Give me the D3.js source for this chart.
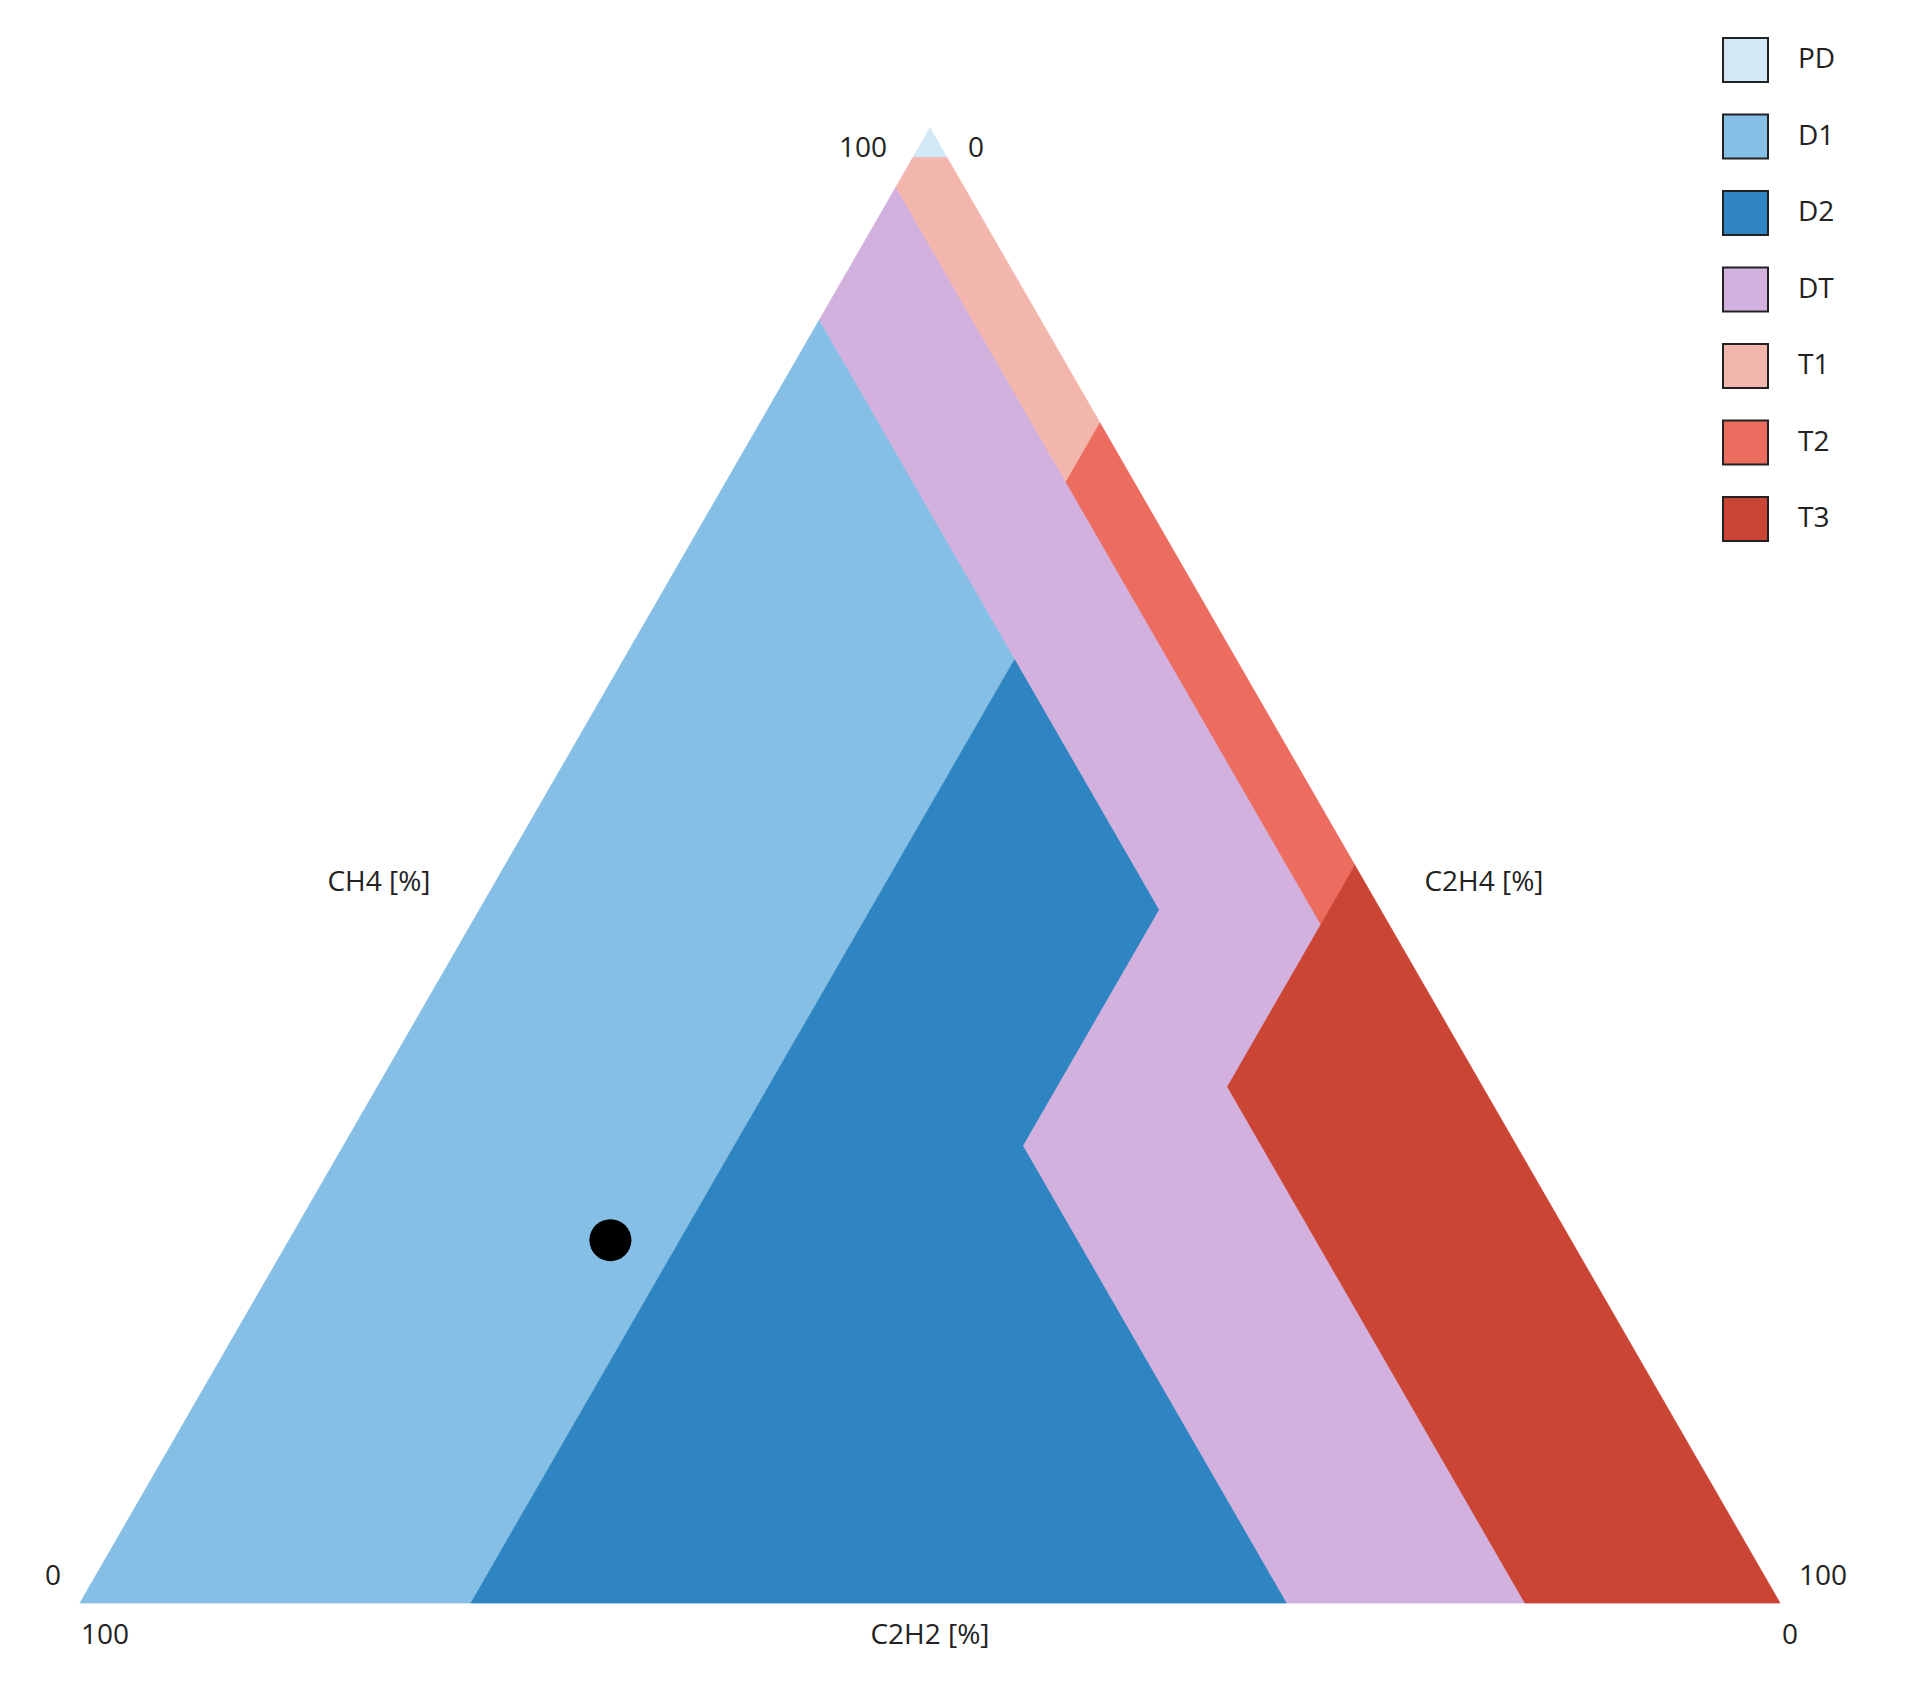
<!DOCTYPE html>
<html><head><meta charset="utf-8">
<script src="https://cdn.jsdelivr.net/npm/d3@7"></script>
<style>body{margin:0;background:#fff}svg text{font-family:"Open Sans","DejaVu Sans",sans-serif;fill:#222}</style>
</head><body><svg id="c" width="1918" height="1697"></svg>
<script>
// zones: vertices as [CH4, C2H4, C2H2] in %
const zoneNames = ["PD","D1","D2","DT","T1","T2","T3"];
const zoneColors = ["#d3e8f6","#86bfe6","#2e85c1","#d3b1de","#f3b6ad","#ec6c5f","#cb4535"];
const PD = [[100,0,0],[98,2,0],[98,0,2]];
const D1 = [[87,0,13],[64,23,13],[0,23,77],[0,0,100]];
const D2 = [[64,23,13],[47,40,13],[31,40,29],[0,71,29],[0,23,77]];
const DT = [[96,0,4],[87,0,13],[64,23,13],[47,40,13],[31,40,29],[0,71,29],[0,85,15],[35,50,15],[46,50,4]];
const T1 = [[98,0,2],[98,2,0],[80,20,0],[76,20,4],[96,0,4]];
const T2 = [[80,20,0],[50,50,0],[46,50,4],[76,20,4]];
const T3 = [[50,50,0],[0,100,0],[0,85,15],[35,50,15]];
const zones = [PD,D1,D2,DT,T1,T2,T3];
const samplePoint = [24.6,18.9,56.5];
const axisTitles = ["CH4 [%]","C2H4 [%]","C2H2 [%]"];
const tickEnds = ["0","100"];

const svg = d3.select("#c");
const yS = d3.scaleLinear().domain([0,100]).range([1603,128]);
const xS = d3.scaleLinear().domain([0,100]).range([80,1780]);
const px = p => [xS(p[1] + p[0]/2), yS(p[0])];
const line = d3.line().x(d=>px(d)[0]).y(d=>px(d)[1]).curve(d3.curveLinearClosed);

svg.selectAll("path.z").data(zones).join("path")
  .attr("d", line).attr("fill",(d,i)=>zoneColors[i]).attr("stroke",(d,i)=>zoneColors[i]).attr("stroke-width",0.8);

const sp = px(samplePoint);
svg.append("circle").attr("cx",sp[0]).attr("cy",sp[1]).attr("r",21).attr("fill","#000");

const fs = 28;
const T = (x,y,t,a)=>svg.append("text").attr("x",x).attr("y",y).attr("font-size",fs).attr("text-anchor",a||"middle").attr("dominant-baseline","middle").text(t);
T(379,884,axisTitles[0]); T(1484,884,axisTitles[1]); T(930,1637,axisTitles[2]);
T(863,150,tickEnds[1]); T(976,150,tickEnds[0]);
T(53,1578,tickEnds[0]); T(105,1637,tickEnds[1]);
T(1823,1578,tickEnds[1]); T(1790,1637,tickEnds[0]);

const lg = svg.append("g");
zoneNames.forEach((n,i)=>{
  const y = 38 + i*76.5;
  lg.append("rect").attr("x",1723).attr("y",y).attr("width",45).attr("height",44)
    .attr("fill",zoneColors[i]).attr("stroke","#222").attr("stroke-width",2);
  lg.append("text").attr("x",1798).attr("y",y+23).attr("font-size",fs).attr("dominant-baseline","middle").text(n);
});
</script></body></html>
